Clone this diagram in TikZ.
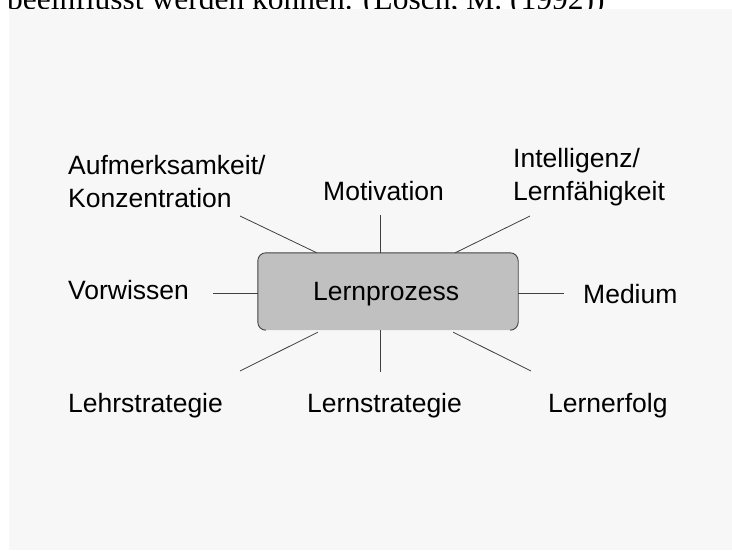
\documentclass[tikz,border=0pt]{standalone}
\usepackage{fontspec}
\setmainfont{Liberation Sans}
\newfontfamily\hdrfont{Liberation Serif}
\definecolor{panel}{HTML}{F7F7F7}
\definecolor{boxgray}{HTML}{C0C0C0}
\definecolor{linegray}{HTML}{404040}
\begin{document}
\begin{tikzpicture}[x=1pt,y=-1pt,
  lbl/.style={anchor=base west, inner sep=0pt, font=\fontsize{26.5}{32.5}\selectfont, align=left, text=black},
  conn/.style={draw=linegray, line width=0.8pt},
  boxborder/.style={draw=linegray, line width=0.9pt, rounded corners=8pt}]
\useasboundingbox (0,0) rectangle (732,550);
\fill[white] (0,0) rectangle (732,550);
\node[anchor=base west, inner sep=0pt, font=\hdrfont\fontsize{31.5}{36}\selectfont] (hdr) at (7,9) {beeinflusst werden können. (Lösch, M. (1992))};
\fill[panel] (9,9) rectangle (732,550);
% central box
\node[fill=boxgray, rounded corners=8pt, minimum width=260pt, minimum height=77pt, inner sep=0pt] (lp) at (388,291.5) {};
\draw[boxborder] ([xshift=8pt]lp.south west) -| (lp.north west) -| (lp.south east) -- ++(-8,0);
\node[lbl] (lpt) at (313,300) {Lernprozess};
% labels
\node[lbl] (auf) at (68,207) {Aufmerksamkeit/\\Konzentration};
\node[lbl] (mot) at (323,200) {Motivation};
\node[lbl] (int) at (513,200) {Intelligenz/\\Lernfähigkeit};
\node[lbl] (vor) at (68,299) {Vorwissen};
\node[lbl] (med) at (583,303) {Medium};
\node[lbl] (lehr) at (68,412) {Lehrstrategie};
\node[lbl] (lern) at (307,412) {Lernstrategie};
\node[lbl] (erf) at (548,412) {Lernerfolg};
% free ends
\coordinate (cauf) at (240,216);
\coordinate (cmot) at (380,215);
\coordinate (cint) at (530,216);
\coordinate (cvor) at (213,293);
\coordinate (cmed) at (564,293);
\coordinate (clehr) at (240,371);
\coordinate (clern) at (380,372);
\coordinate (cerf) at (531,371);
% connectors
\draw[conn] (cauf) -- ([xshift=59pt]lp.north west);
\draw[conn] (cmot) -- (cmot |- lp.north);
\draw[conn] (cint) -- ([xshift=-63pt]lp.north east);
\draw[conn] (cvor) -- (cvor -| lp.west);
\draw[conn] (cmed) -- (cmed -| lp.east);
\draw[conn] (clehr) -- ([xshift=60pt,yshift=-2pt]lp.south west);
\draw[conn] (clern) -- (clern |- lp.south);
\draw[conn] (cerf) -- ([xshift=-65pt,yshift=-2pt]lp.south east);
\end{tikzpicture}
\end{document}
